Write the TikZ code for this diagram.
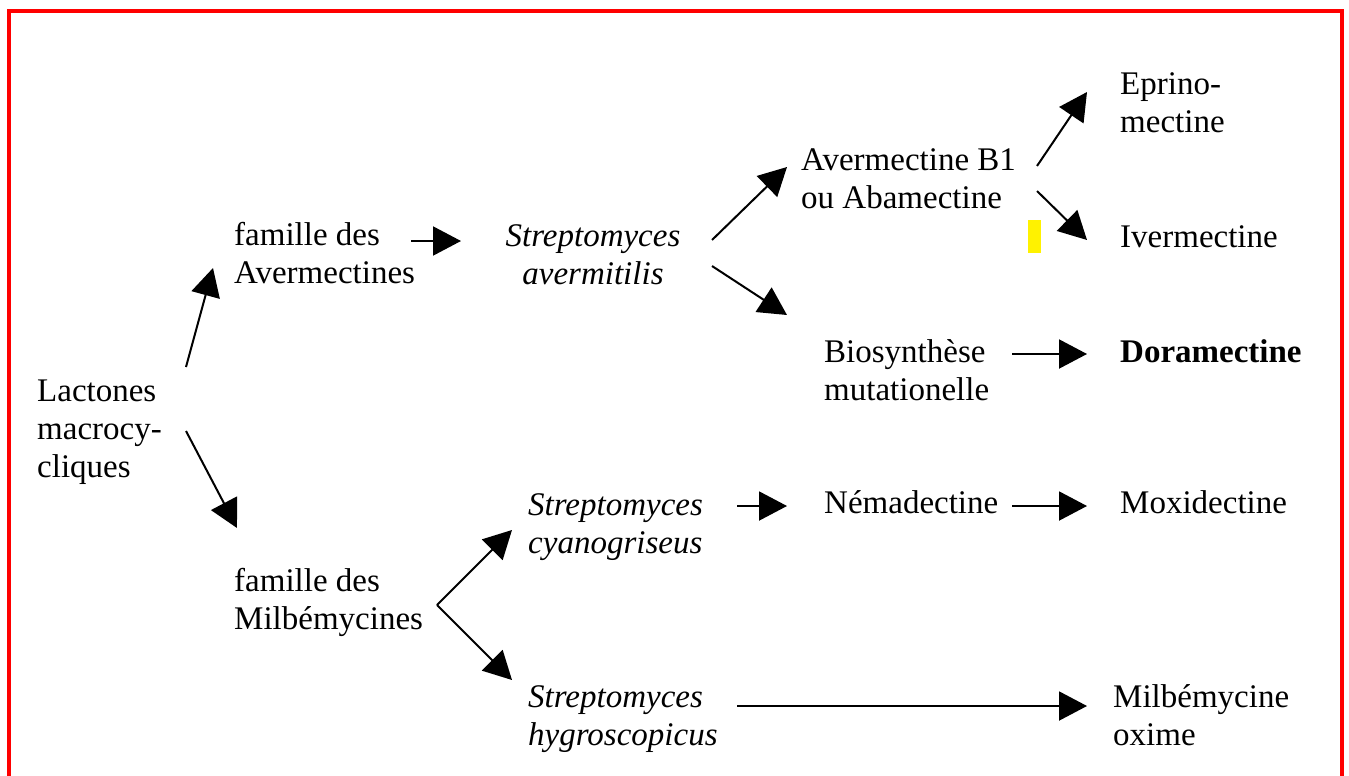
\documentclass[tikz,border=0pt]{standalone}
\usepackage{fontspec}
\setmainfont{Liberation Serif}
\usetikzlibrary{arrows.meta}
\begin{document}
\begin{tikzpicture}[x=1pt,y=-1pt,
  txt/.style={anchor=base west,inner sep=0pt,align=left,font=\fontsize{33}{38}\selectfont},
  arr/.style={line width=2pt,-{Triangle[length=28pt,width=29pt]}}]
\useasboundingbox (0,0) rectangle (1349,776);
\draw[red,line width=4pt] (8.5,776) -- (8.5,11) -- (1342,11) -- (1342,776);
\fill[yellow] (1028,220) rectangle (1041,253);
\node[txt] (lac) at (37,477) {Lactones\\macrocy-\\cliques};
\node[txt] (famav) at (234,283) {famille des\\Avermectines};
\node[txt,anchor=base,align=center,font=\fontsize{33}{38}\selectfont\itshape] (strav) at (593,284) {Streptomyces\\avermitilis};
\node[txt] (abam) at (801,208) {Avermectine B1\\ou Abamectine};
\node[txt] (eprino) at (1120,132) {Eprino-\\mectine};
\node[txt] (iver) at (1120,247) {Ivermectine};
\node[txt] (biosyn) at (824,400) {Biosynthèse\\mutationelle};
\node[txt,font=\fontsize{33}{38}\selectfont\bfseries] (dora) at (1120,362) {Doramectine};
\node[txt] (fammil) at (234,629) {famille des\\Milbémycines};
\node[txt,font=\fontsize{33}{38}\selectfont\itshape] (strcy) at (528,553) {Streptomyces\\cyanogriseus};
\node[txt] (nema) at (824,513) {Némadectine};
\node[txt] (moxi) at (1120,513) {Moxidectine};
\node[txt,font=\fontsize{33}{38}\selectfont\itshape] (strhy) at (528,745) {Streptomyces\\hygroscopicus};
\node[txt] (milbox) at (1113,745) {Milbémycine\\oxime};
\draw[arr] ([shift={(149,-110)}]lac.base west) -- ([shift={(-21,-15)}]famav.base west);
\draw[arr] ([shift={(149,-46)}]lac.base west) -- ([shift={(3,-101)}]fammil.base west);
\draw[arr] ([shift={(177,-42)}]famav.base west) -- ([shift={(-132,-43)}]strav.base);
\draw[arr] ([shift={(119,-44)}]strav.base) -- ([shift={(-14,-41)}]abam.base west);
\draw[arr] ([shift={(119,-18)}]strav.base) -- ([shift={(-37,-85)}]biosyn.base west);
\draw[arr] ([shift={(236,-42)}]abam.base west) -- ([shift={(-33,-40)}]eprino.base west);
\draw[arr] ([shift={(236,-17)}]abam.base west) -- ([shift={(-33,-7)}]iver.base west);
\draw[arr] ([shift={(188,-46)}]biosyn.base west) -- ([shift={(-33,-8)}]dora.base west);
\draw[arr] ([shift={(203,-24)}]fammil.base west) -- ([shift={(-16,-23)}]strcy.base west);
\draw[arr] ([shift={(203,-24)}]fammil.base west) -- ([shift={(-16,-65)}]strhy.base west);
\draw[arr] ([shift={(209,-47)}]strcy.base west) -- ([shift={(-37,-7)}]nema.base west);
\draw[arr] ([shift={(188,-7)}]nema.base west) -- ([shift={(-33,-7)}]moxi.base west);
\draw[arr] ([shift={(209,-39)}]strhy.base west) -- ([shift={(-26,-39)}]milbox.base west);
\end{tikzpicture}
\end{document}
